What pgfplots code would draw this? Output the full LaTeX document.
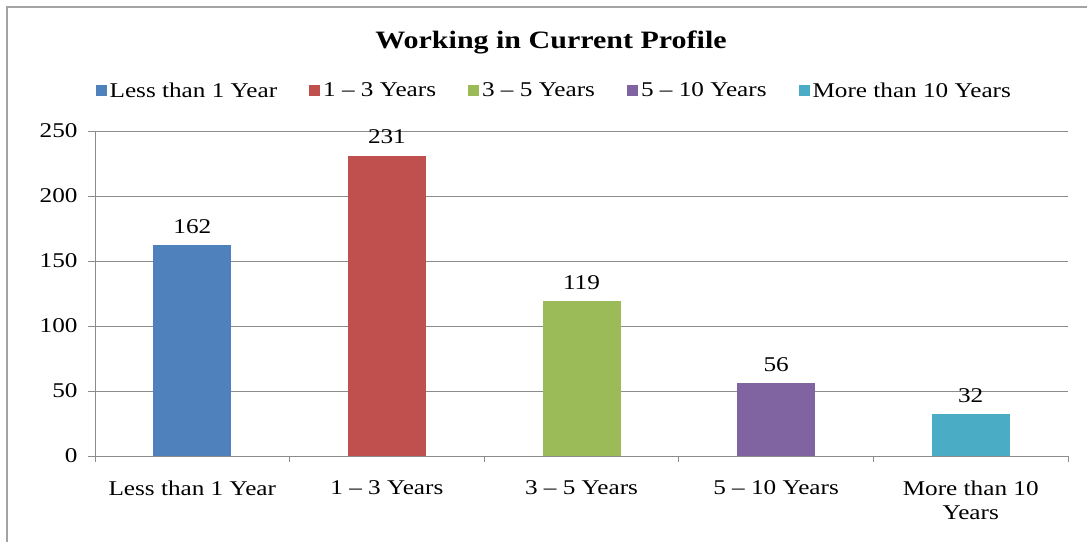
\documentclass[border=0pt]{standalone}
\usepackage{pgfplots}
\pgfplotsset{compat=1.18}
\usepackage{fontspec}
\setmainfont[FakeStretch=1.2]{Liberation Serif}
\definecolor{c1}{HTML}{4F81BD}
\definecolor{c2}{HTML}{C0504D}
\definecolor{c3}{HTML}{9BBB59}
\definecolor{c4}{HTML}{8064A2}
\definecolor{c5}{HTML}{4BACC6}
\definecolor{gridc}{HTML}{8C8C8C}
\begin{document}
\begin{tikzpicture}[x=1pt,y=1pt]
\path[use as bounding box] (0,0) rectangle (1087,541);
\draw[gridc!80, line width=2pt] (7,-10) -- (7,534) -- (1100,534);
\node[font=\fontsize{25}{29}\selectfont\bfseries] at (551,499) {Working in Current Profile};
\begin{axis}[
  at={(95pt,85pt)}, anchor=south west,
  scale only axis, width=973pt, height=325pt,
  ybar, bar width=78pt, bar shift=0pt,
  xmin=-0.5, xmax=4.5, ymin=0, ymax=250,
  ytick={0,50,...,250},
  xtick={0,1,2,3,4},
  xticklabels={Less than 1 Year, 1 -- 3 Years, 3 -- 5 Years, 5 -- 10 Years, {More than 10\\Years}},
  minor xtick={-0.5,0.5,1.5,2.5,3.5,4.5},
  major x tick style={draw=none},
  minor tick length=6pt, major tick length=7pt,
  tick align=outside,
  xtick pos=bottom, ytick pos=left,
  ymajorgrids, grid style={gridc, line width=0.8pt},
  axis x line*=bottom, axis y line*=left,
  axis line style={gridc, line width=0.8pt, -},
  tick style={gridc, line width=0.8pt},
  ticklabel style={font=\fontsize{21}{24}\selectfont},
  xticklabel style={align=center, yshift=-14pt},
  yticklabel style={xshift=-7pt},
  /pgf/number format/assume math mode=true,
  nodes near coords,
  nodes near coords style={font=\fontsize{21}{24}\selectfont, black, yshift=8pt},
  legend columns=5,
  legend style={draw=none, at={(0.472,1.0)}, anchor=south, yshift=28pt,
    font=\fontsize{21}{24}\selectfont, /tikz/every even column/.append style={column sep=30pt},
    /tikz/every odd column/.append style={column sep=1pt}},
  legend image code/.code={\fill[#1] (0pt,-5.5pt) rectangle (11pt,5.5pt);},
]
\addplot[fill=c1, draw=none] coordinates {(0,162)};
\addlegendentry{Less than 1 Year}
\addplot[fill=c2, draw=none] coordinates {(1,231)};
\addlegendentry{1 -- 3 Years}
\addplot[fill=c3, draw=none] coordinates {(2,119)};
\addlegendentry{3 -- 5 Years}
\addplot[fill=c4, draw=none] coordinates {(3,56)};
\addlegendentry{5 -- 10 Years}
\addplot[fill=c5, draw=none] coordinates {(4,32)};
\addlegendentry{More than 10 Years}
\end{axis}
\end{tikzpicture}
\end{document}
